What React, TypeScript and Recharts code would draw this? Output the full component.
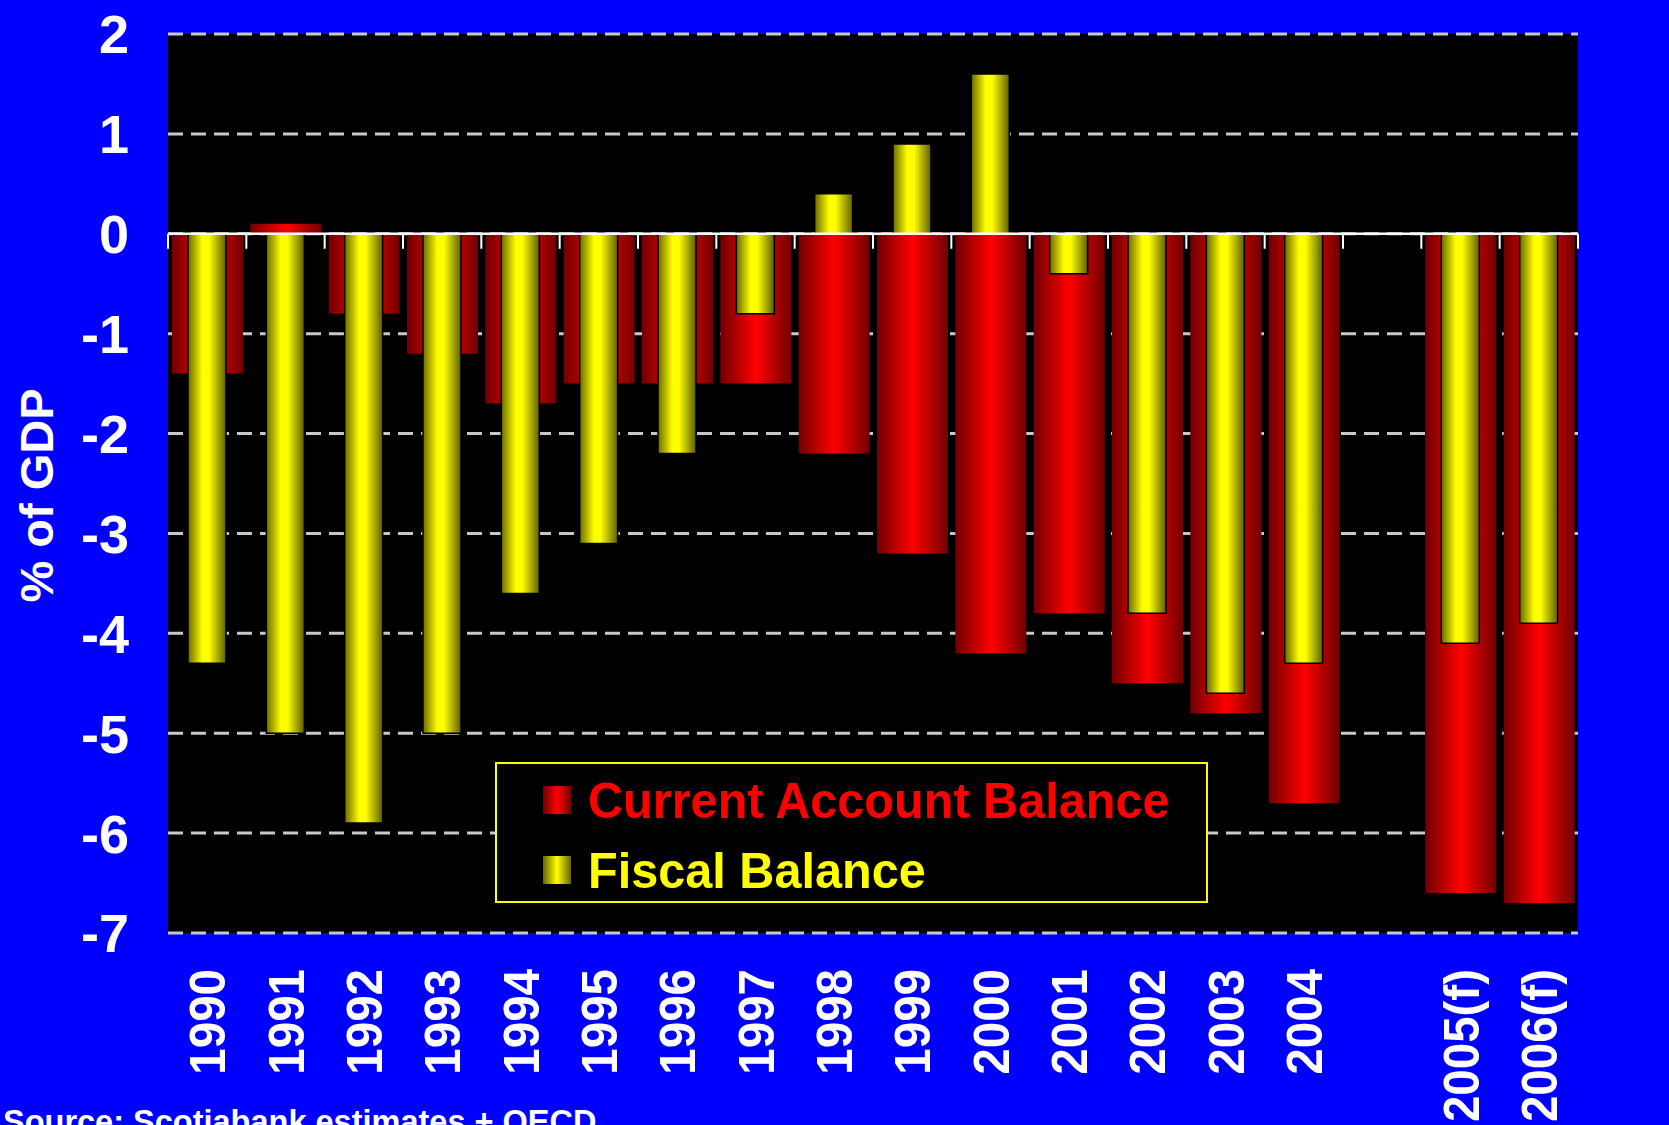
import { BarChart, Bar, XAxis, YAxis, CartesianGrid, ReferenceLine, Legend } from 'recharts';

const years = [
  '1990', '1991', '1992', '1993', '1994', '1995', '1996', '1997', '1998',
  '1999', '2000', '2001', '2002', '2003', '2004', '', '2005(f)', '2006(f)',
];
const currentAccount = [
  -1.4, 0.1, -0.8, -1.2, -1.7, -1.5, -1.5, -1.5, -2.2,
  -3.2, -4.2, -3.8, -4.5, -4.8, -5.7, null, -6.6, -6.7,
];
const fiscalBalance = [
  -4.3, -5.0, -5.9, -5.0, -3.6, -3.1, -2.2, -0.8, 0.4,
  0.9, 1.6, -0.4, -3.8, -4.6, -4.3, null, -4.1, -3.9,
];
const yTicks = [2, 1, 0, -1, -2, -3, -4, -5, -6, -7];

const data = years.map((year, i) => ({
  year,
  ca: currentAccount[i],
  fb: fiscalBalance[i],
}));

const FONT = '"Liberation Sans", Arial, sans-serif';
const W = 1669;
const H = 1125;

const seriesColors: Record<string, { text: string; edge: string; mid: string }> = {
  ca: { text: '#ff0000', edge: '#700000', mid: '#ff0000' },
  fb: { text: '#ffff00', edge: '#666600', mid: '#ffff00' },
};

function XTick({ x, y, payload }: any) {
  return (
    <text
      transform={`translate(${x}, ${y}) rotate(-90) scale(0.95, 1)`}
      textAnchor="end"
      dy="0.36em"
      fill="#fff"
      fontSize={50}
      fontWeight="bold"
      fontFamily={FONT}
    >
      {payload.value}
    </text>
  );
}

function YTick({ x, y, payload, anchor }: any) {
  return (
    <text
      x={x}
      y={y}
      textAnchor={anchor}
      dy="0.36em"
      fill="#fff"
      fontSize={54}
      fontWeight="bold"
      fontFamily={FONT}
    >
      {payload.value}
    </text>
  );
}

// zero line with the category tick marks hanging below it
function ZeroLine(props: any) {
  const { x1, x2, y1 } = props;
  const step = (x2 - x1) / years.length;
  return (
    <g>
      {years.concat(['']).map((_, i) => (
        <line key={i} x1={x1 + i * step} x2={x1 + i * step} y1={y1} y2={y1 + 15} stroke="#fff" strokeWidth={2} />
      ))}
      <line x1={x1} x2={x2} y1={y1} y2={y1} stroke="#fff" strokeWidth={2.5} />
    </g>
  );
}

function LegendBox({ payload }: any) {
  return (
    <div
      style={{
        position: 'relative',
        width: 713,
        height: 141,
        boxSizing: 'border-box',
        border: '2px solid #ffff00',
        background: '#000',
        fontFamily: FONT,
      }}
    >
      {(payload || []).map((p: any, i: number) => {
        const c = seriesColors[p.dataKey as string];
        return (
          <div key={p.dataKey}>
            <svg width={28} height={28} style={{ position: 'absolute', left: 46, top: 22 + i * 70 }}>
              <defs>
                <linearGradient id={`lg-${p.dataKey}`} x1="0" y1="0" x2="1" y2="0">
                  <stop offset="0%" stopColor={c.edge} />
                  <stop offset="50%" stopColor={c.mid} />
                  <stop offset="100%" stopColor={c.edge} />
                </linearGradient>
              </defs>
              <rect width={28} height={28} fill={`url(#lg-${p.dataKey})`} />
            </svg>
            <div
              style={{
                position: 'absolute',
                left: 91,
                top: 12 + i * 70,
                fontSize: 50,
                lineHeight: '50px',
                fontWeight: 'bold',
                color: c.text,
                whiteSpace: 'nowrap',
                transform: 'scaleX(0.972)',
                transformOrigin: 'left center',
              }}
            >
              {p.value}
            </div>
          </div>
        );
      })}
    </div>
  );
}

export default function App() {
  return (
    <div
      style={{
        position: 'absolute',
        left: 0,
        top: 0,
        width: W,
        height: H,
        background: '#0000ff',
        overflow: 'hidden',
        fontFamily: FONT,
      }}
    >
      <BarChart width={W} height={H} data={data} margin={{ top: 34, right: 0, bottom: 0, left: 0 }}>
        <defs>
          <linearGradient id="caGrad" x1="0" y1="0" x2="1" y2="0">
            <stop offset="0%" stopColor="#700000" />
            <stop offset="50%" stopColor="#ff0000" />
            <stop offset="100%" stopColor="#700000" />
          </linearGradient>
          <linearGradient id="fbGrad" x1="0" y1="0" x2="1" y2="0">
            <stop offset="0%" stopColor="#6a6a00" />
            <stop offset="38%" stopColor="#ffff00" />
            <stop offset="55%" stopColor="#ffff00" />
            <stop offset="100%" stopColor="#5e5e00" />
          </linearGradient>
        </defs>
        <CartesianGrid
          xAxisId="ca"
          yAxisId="left"
          vertical={false}
          fill="#000"
          stroke="#c8c8c8"
          strokeWidth={3}
          strokeDasharray="15 8"
        />
        <XAxis
          xAxisId="ca"
          dataKey="year"
          interval={0}
          height={192}
          axisLine={false}
          tickLine={false}
          tickSize={0}
          tickMargin={36}
          tick={<XTick />}
        />
        <XAxis xAxisId="fb" dataKey="year" hide />
        <YAxis
          yAxisId="left"
          domain={[-7, 2]}
          ticks={yTicks}
          interval={0}
          width={168}
          axisLine={false}
          tickLine={false}
          tickSize={0}
          tickMargin={39}
          tick={<YTick anchor="end" />}
          label={{
            content: ({ viewBox }: any) => (
              <text
                transform={`translate(${viewBox.x + 53}, ${viewBox.y + viewBox.height / 2 + 12}) rotate(-90)`}
                textAnchor="middle"
                fill="#fff"
                fontSize={47}
                fontWeight="bold"
                fontFamily={FONT}
              >
                % of GDP
              </text>
            ),
          }}
        />
        <YAxis
          yAxisId="right"
          orientation="right"
          domain={[-7, 2]}
          ticks={yTicks}
          interval={0}
          width={91}
          axisLine={false}
          tickLine={false}
          tickSize={0}
          tickMargin={40}
          tick={<YTick anchor="start" />}
        />
        <Bar
          dataKey="ca"
          name="Current Account Balance"
          xAxisId="ca"
          yAxisId="left"
          barSize={71}
          fill="url(#caGrad)"
          isAnimationActive={false}
        />
        <Bar
          dataKey="fb"
          name="Fiscal Balance"
          xAxisId="fb"
          yAxisId="left"
          barSize={38}
          fill="url(#fbGrad)"
          stroke="#000"
          strokeWidth={1.5}
          isAnimationActive={false}
        />
        <ReferenceLine xAxisId="ca" yAxisId="left" y={0} shape={<ZeroLine />} />
        <Legend
          layout="horizontal"
          verticalAlign="middle"
          align="center"
          content={<LegendBox />}
          wrapperStyle={{ left: 495, top: 762, width: 713, height: 141 }}
        />
      </BarChart>
      <div
        style={{
          position: 'absolute',
          left: 3,
          top: 1105,
          fontSize: 33,
          lineHeight: '33px',
          fontWeight: 'bold',
          color: '#fff',
          whiteSpace: 'nowrap',
          transform: 'scaleX(0.985)',
          transformOrigin: 'left center',
        }}
      >
        Source: Scotiabank estimates + OECD
      </div>
    </div>
  );
}
